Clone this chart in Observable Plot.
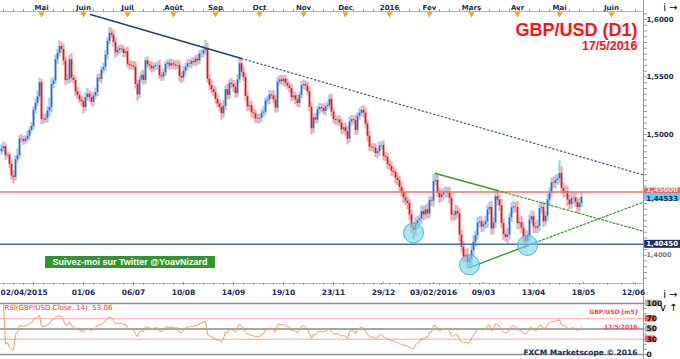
<!DOCTYPE html>
<html><head><meta charset="utf-8">
<script src="https://cdn.jsdelivr.net/npm/d3@7"></script>
<script src="https://cdn.jsdelivr.net/npm/@observablehq/plot@0.6"></script>
<style>
html,body{margin:0;padding:0;background:#fff;}
#wrap{position:relative;width:680px;height:359px;overflow:hidden;background:#fff;}
#wrap svg{position:absolute;left:0;overflow:visible;}
#twitter{position:absolute;left:45px;top:256px;width:170px;height:12px;background:#2f962f;color:#fff;font:bold 9px "Liberation Sans",sans-serif;line-height:12px;text-align:center;white-space:nowrap;}
</style></head><body><div id="wrap"></div>
<script>
// ---------- DATA ----------
const startDate = "2015-04-02";
const lastDate = "2016-05-17";
const holidays = ["2015-04-03", "2015-12-25", "2016-01-01"];
const firstOpen = 1.4850;
const closes = [
1.4875,1.4895,1.4815,1.4820,1.4740,1.4640,1.4625,1.4780,1.4815,1.4960,
1.4955,1.4940,1.4960,1.4985,1.5035,1.5070,1.5210,1.5270,1.5330,1.5450,
1.5130,1.5125,1.5140,1.5205,1.5235,1.5435,1.5465,1.5650,1.5705,1.5765,
1.5740,1.5640,1.5470,1.5480,1.5650,1.5490,1.5470,1.5370,1.5340,1.5300,
1.5285,1.5235,1.5320,1.5350,1.5320,1.5280,1.5335,1.5365,1.5490,1.5480,
1.5560,1.5585,1.5690,1.5810,1.5880,1.5865,1.5800,1.5710,1.5730,1.5745,
1.5740,1.5705,1.5720,1.5610,1.5600,1.5595,1.5585,1.5435,1.5345,1.5475,
1.5515,1.5470,1.5640,1.5605,1.5595,1.5570,1.5590,1.5600,1.5600,1.5510,
1.5500,1.5535,1.5610,1.5620,1.5595,1.5615,1.5605,1.5595,1.5600,1.5505,
1.5490,1.5550,1.5585,1.5615,1.5610,1.5635,1.5625,1.5655,1.5640,1.5700,
1.5700,1.5730,1.5745,1.5480,1.5425,1.5390,1.5365,1.5305,1.5265,1.5235,
1.5180,1.5245,1.5390,1.5340,1.5445,1.5435,1.5410,1.5355,1.5475,1.5615,
1.5540,1.5495,1.5330,1.5240,1.5250,1.5190,1.5180,1.5135,1.5130,1.5140,
1.5185,1.5195,1.5290,1.5300,1.5345,1.5335,1.5300,1.5230,1.5455,1.5475,
1.5460,1.5480,1.5445,1.5420,1.5400,1.5320,1.5335,1.5300,1.5270,1.5340,
1.5425,1.5435,1.5420,1.5370,1.5235,1.5050,1.5145,1.5125,1.5215,1.5235,
1.5225,1.5200,1.5240,1.5250,1.5305,1.5195,1.5130,1.5120,1.5125,1.5100,
1.5040,1.5060,1.5025,1.4960,1.5110,1.5130,1.5120,1.5035,1.5160,1.5185,
1.5210,1.5185,1.5090,1.4985,1.4890,1.4885,1.4880,1.4835,1.4850,1.4900,
1.4905,1.4810,1.4800,1.4740,1.4725,1.4680,1.4670,1.4620,1.4600,1.4540,
1.4500,1.4450,1.4420,1.4400,1.4300,1.4190,1.4165,1.4225,1.4250,1.4265,
1.4330,1.4300,1.4345,1.4310,1.4425,1.4420,1.4590,1.4600,1.4495,1.4450,
1.4475,1.4495,1.4500,1.4490,1.4445,1.4300,1.4295,1.4330,1.4310,1.4125,
1.4020,1.3935,1.3950,1.3885,1.3915,1.3990,1.4065,1.4120,1.4230,1.4240,
1.4195,1.4215,1.4240,1.4345,1.4365,1.4180,1.4230,1.4460,1.4430,1.4380,
1.4225,1.4130,1.4105,1.4125,1.4275,1.4360,1.4370,1.4365,1.4225,1.4235,
1.4185,1.4110,1.4070,1.4120,1.4255,1.4285,1.4195,1.4185,1.4200,1.4355,
1.4365,1.4240,1.4290,1.4430,1.4490,1.4580,1.4575,1.4600,1.4615,1.4660,
1.4530,1.4490,1.4505,1.4430,1.4390,1.4440,1.4445,1.4410,1.4365,1.4400,
1.4453
];
// wick lengths above / below the body, in pips
const upperWickPips = [
35,40,25,30,20,30,45,35,60,30, 40,25,30,45,30,35,30,40,45,40,
30,45,40,35,80,50,30,40,35,50, 40,45,35,40,35,55,30,30,40,30,
35,40,45,50,30,45,30,40,30,40, 30,35,40,30,50,45,40,40,35,30,
35,30,25,40,30,35,40,45,35,30, 35,45,25,35,30,40,30,25,30,45,
30,35,25,30,35,40,30,35,45,40, 35,40,30,40,35,30,35,30,40,30,
35,40,75,50,45,40,35,50,40,35, 40,55,30,45,30,40,35,40,45,45,
45,50,35,40,35,40,35,30,40,35, 30,45,30,35,40,30,45,40,40,35,
40,30,35,40,30,35,40,30,45,30, 35,40,30,35,40,45,35,40,30,35,
30,40,30,35,40,45,30,35,30,40, 35,30,40,45,40,35,30,50,30,40,
35,40,45,35,40,30,35,40,30,35, 30,40,35,30,40,35,40,30,45,35,
40,35,45,40,35,40,45,50,40,35, 50,45,40,55,40,35,60,70,45,40,
45,40,45,40,50,45,40,55,50,45, 40,50,45,60,40,45,55,40,45,50,
45,40,50,40,45,55,50,60,50,45, 55,40,45,60,40,45,50,40,55,45,
50,45,55,40,45,50,45,40,55,40, 50,45,40,50,45,40,50,45,40,110,
60,45,50,45,40,55,50,45,40,50, 40
];
const lowerWickPips = [
30,35,40,25,35,40,55,30,35,25, 30,35,25,30,35,25,30,35,30,40,
45,35,30,40,50,45,35,30,40,30, 35,40,45,30,40,35,30,40,35,30,
40,55,35,30,40,35,40,30,35,30, 40,30,35,40,30,35,40,45,30,35,
30,40,35,30,40,35,30,40,55,35, 30,40,35,30,40,35,30,35,40,30,
40,35,30,40,35,30,40,35,30,45, 50,35,40,30,35,40,30,35,40,30,
35,30,40,35,45,40,35,40,35,40, 55,40,35,40,35,40,45,40,35,30,
40,35,40,45,35,40,45,40,35,40, 35,40,30,35,40,30,35,45,40,35,
30,40,35,30,40,35,30,40,35,40, 30,35,40,35,40,55,40,35,30,40,
35,30,40,35,30,40,35,40,45,35, 40,35,40,50,35,40,35,45,40,35,
30,40,35,45,40,35,40,35,45,40, 35,40,35,45,40,45,40,50,45,40,
45,50,40,55,45,50,80,45,50,40, 45,50,40,45,40,45,50,40,45,50,
40,45,50,40,45,55,50,45,40,60, 50,55,45,50,45,55,45,50,45,40,
50,45,40,55,45,60,50,45,55,50, 45,50,40,55,45,40,50,45,55,50,
45,55,65,45,50,40,55,45,50,40, 45,50,40,45,55,40,45,50,40,45,
50,45,40,55,45,40,50,45,55,40, 35
];
const monthLabels = ["Mai","Juin","Juil","Août","Sep","Oct","Nov","Dec","2016","Fev","Mars","Avr","Mai","Juin"];
const monthDates = ["2015-05-01","2015-06-01","2015-07-01","2015-08-01","2015-09-01","2015-10-01","2015-11-01","2015-12-01","2016-01-01","2016-02-01","2016-03-01","2016-04-01","2016-05-01","2016-06-01"];
const dateLabels = ["02/04/2015","01/06","06/07","10/08","14/09","19/10","23/11","29/12","03/02/2016","09/03","13/04","18/05","12/06"];
const dateLabelDates = ["2015-04-02","2015-06-01","2015-07-06","2015-08-10","2015-09-14","2015-10-19","2015-11-23","2015-12-29","2016-02-03","2016-03-09","2016-04-13","2016-05-18","2016-06-12"];
const priceTicks = [1.60, 1.55, 1.50];
const lowerPriceTick = 1.40;
const resistanceLevel = 1.45;
const supportLevel = 1.4045;
const lastPrice = 1.44533;
const rsiLevels = [100, 70, 50, 30, 0];
const rsiTitle = "RSI(GBP/USD.Close, 14): 53,06";
const chartTitle = "GBP/USD (D1)";
const chartDate = "17/5/2016";
const navyTrend = [{i: 44.5, p: 1.6043}, {i: 120, p: 1.5661}];
const navyTrendExt = [{i: 120, p: 1.5661}, {i: 321, p: 1.4648}];
const greenUpper = [{i: 217, p: 1.4661}, {i: 248, p: 1.4513}];
const greenUpperExt = [{i: 248, p: 1.4513}, {i: 321, p: 1.4158}];
const greenLower = [{i: 234, p: 1.3843}, {i: 263, p: 1.4035}];
const greenLowerExt = [{i: 263, p: 1.4035}, {i: 321, p: 1.4412}];
const lowCircles = [{i: 206, p: 1.4144}, {i: 234, p: 1.3866}, {i: 263, p: 1.4035}];

// ---------- CALENDAR (trading days) ----------
const fmtD = d3.utcFormat("%Y-%m-%d");
const tradingDays = d3.utcDays(new Date(startDate), d3.utcDay.offset(new Date(lastDate), 1))
  .filter(d => d.getUTCDay() % 6 !== 0 && !holidays.includes(fmtD(d)));
const lastDay = tradingDays[tradingDays.length - 1];
function idxOf(s) {
  const d = new Date(s);
  if (d <= lastDay) return tradingDays.findIndex(x => x >= d);
  return tradingDays.length - 1 + d3.utcDay.count(lastDay, d);
}
const xDom = [-0.5, 321];
const yDom = [1.37043, 1.60696];
const mondayIdx = tradingDays.map((d, i) => d.getUTCDay() === 1 ? i : null).filter(v => v !== null)
  .concat(d3.utcMonday.range(d3.utcDay.offset(lastDay, 1), new Date("2016-06-20")).map(d => idxOf(fmtD(d))));
const monthTicks = monthLabels.map((label, k) => ({label, i: idxOf(monthDates[k])}));
const dateTicks = dateLabels.map((label, k) => ({label, i: idxOf(dateLabelDates[k])}));

const candles = closes.map((c, i) => {
  const o = i === 0 ? firstOpen : closes[i - 1];
  return {i, o, c, h: Math.max(o, c) + upperWickPips[i] / 1e4, l: Math.min(o, c) - lowerWickPips[i] / 1e4, up: c >= o};
});
const upC = candles.filter(d => d.up), dnC = candles.filter(d => !d.up);

// RSI 14 (Wilder) of the closes
const rsi = [];
{
  let ag = 0, al = 0;
  for (let i = 1; i < closes.length; i++) {
    const d = closes[i] - closes[i - 1];
    const g = Math.max(d, 0), l = Math.max(-d, 0);
    if (i <= 14) { ag = (ag * (i - 1) + g) / i; al = (al * (i - 1) + l) / i; }
    else { ag = (ag * 13 + g) / 14; al = (al * 13 + l) / 14; }
    rsi.push({i, v: al === 0 ? 100 : 100 - 100 / (1 + ag / al)});
  }
}

const navy = "#1c2a5c";
const fmtP = (d, n) => d.toFixed(n).replace(".", ",");
const boxX1 = xDom[1] + 0.6, boxX2 = xDom[1] + 18.5;
const halfBox = 4 / 1150;
const priceBoxes = [
  {v: resistanceLevel, label: fmtP(resistanceLevel, 5), fill: "#ff5a5a"},
  {v: lastPrice, label: fmtP(lastPrice, 5), fill: "#5fd0f2"},
  {v: supportLevel, label: fmtP(supportLevel, 5), fill: "#1d2d5e"}
];

const p1 = Plot.plot({
  width: 680, height: 300,
  marginTop: 11, marginBottom: 17, marginLeft: 0, marginRight: 37,
  x: {domain: xDom, axis: null},
  y: {domain: yDom, axis: null},
  style: {background: "transparent", fontFamily: "DejaVu Sans", overflow: "visible"},
  marks: [
    Plot.ruleY([yDom[1]], {stroke: "#b5b5b5"}),
    Plot.ruleY([yDom[0]], {stroke: "#b5b5b5"}),
    Plot.ruleX([xDom[1]], {stroke: "#9a9a9a", insetTop: -11, insetBottom: -17}),
    Plot.axisX({anchor: "top", ticks: mondayIdx, tickSize: 3, tickFormat: () => "", stroke: "#9a9a9a"}),
    Plot.axisX({anchor: "bottom", ticks: mondayIdx, tickSize: 2, tickFormat: () => "", stroke: "#9a9a9a"}),
    Plot.ruleX(dateTicks.slice(1), {x: "i", y1: yDom[0], y2: yDom[0] + 4 / 1150, stroke: "#8a8a8a", insetBottom: -3}),
    Plot.ruleX([16], {y1: yDom[0], y2: yDom[0] + 4 / 1150, stroke: "#8a8a8a", insetBottom: -3}),
    Plot.axisY({anchor: "right", ticks: d3.range(1.375, 1.6051, 0.005), tickSize: 3, tickFormat: () => "", stroke: "#9a9a9a"}),
    Plot.dot(monthTicks, {x: "i", y: () => yDom[1], symbol: "triangle", rotate: 180, r: 2.3, fill: "#f4a21e", stroke: "none", dy: 2.5}),
    Plot.text(monthTicks, {x: "i", text: "label", frameAnchor: "top", dy: -6, fontSize: 7, fontWeight: "bold", fill: navy}),
    Plot.text(dateTicks.slice(0, 1), {x: "i", text: "label", frameAnchor: "bottom", dy: 11, dx: -1, textAnchor: "start", fontSize: 7.5, fontWeight: "bold", fill: navy}),
    Plot.text(dateTicks.slice(1), {x: "i", text: "label", frameAnchor: "bottom", dy: 11, fontSize: 7.5, fontWeight: "bold", fill: navy}),
    // candles
    Plot.ruleX(upC, {x: "i", y1: "l", y2: "h", stroke: "#a9c8ee", strokeWidth: 2.2}),
    Plot.ruleX(dnC, {x: "i", y1: "l", y2: "h", stroke: "#f3a9ab", strokeWidth: 2.2}),
    Plot.ruleX(upC, {x: "i", y1: "o", y2: "c", stroke: "#1f6ed4", strokeWidth: 1.6}),
    Plot.ruleX(dnC, {x: "i", y1: "o", y2: "c", stroke: "#e3161c", strokeWidth: 1.6}),
    // levels
    Plot.ruleY([resistanceLevel], {stroke: "#ff6a6a", strokeWidth: 1.6}),
    Plot.ruleY([supportLevel], {stroke: "#4d6a96", strokeWidth: 1.6}),
    // trend lines
    Plot.line(navyTrend, {x: "i", y: "p", stroke: "#26406f", strokeWidth: 1.5}),
    Plot.line(navyTrendExt, {x: "i", y: "p", stroke: "#3c5a8c", strokeWidth: 1.2, strokeDasharray: "1.5,2.5"}),
    Plot.line(greenUpper, {x: "i", y: "p", stroke: "#3a9a2a", strokeWidth: 1.4}),
    Plot.line(greenUpperExt, {x: "i", y: "p", stroke: "#3a9a2a", strokeWidth: 1.2, strokeDasharray: "2,2"}),
    Plot.line(greenLower, {x: "i", y: "p", stroke: "#3a9a2a", strokeWidth: 1.4}),
    Plot.line(greenLowerExt, {x: "i", y: "p", stroke: "#3a9a2a", strokeWidth: 1.2, strokeDasharray: "2,2"}),
    Plot.dot(lowCircles, {x: "i", y: "p", r: 10, fill: "#6fd4ec", fillOpacity: 0.6, stroke: "#48b6de", strokeWidth: 1}),
    // right axis labels
    Plot.text(priceTicks, {x: () => xDom[1], y: d => d, text: d => fmtP(d, 4), dx: 3, textAnchor: "start", fontSize: 7, fontWeight: "bold", fill: navy}),
    Plot.text([lowerPriceTick], {x: () => xDom[1], y: d => d, text: d => fmtP(d, 4), dx: 3, dy: 5.5, textAnchor: "start", fontSize: 6.5, fontWeight: "bold", fill: "#777"}),
    Plot.rect(priceBoxes, {x1: () => boxX1, x2: () => boxX2, y1: d => d.v - halfBox, y2: d => d.v + halfBox, fill: d => d.fill}),
    Plot.text(priceBoxes.slice(0, 1), {x: () => boxX1, y: "v", text: "label", dx: 1.5, dy: -1.8, textAnchor: "start", fontSize: 7, fontWeight: "bold", fill: "#ffe8e8"}),
    Plot.text(priceBoxes.slice(1, 2), {x: () => boxX1, y: "v", text: "label", dx: 1.5, dy: 1.2, textAnchor: "start", fontSize: 7, fontWeight: "bold", fill: navy}),
    Plot.text(priceBoxes.slice(2, 3), {x: () => boxX1, y: "v", text: "label", dx: 1.5, dy: -1, textAnchor: "start", fontSize: 7, fontWeight: "bold", fill: "#ffffff"}),
    // title
    Plot.text([chartTitle], {frameAnchor: "top-right", dx: -6, dy: 11.5, textAnchor: "end", fontSize: 18, fontWeight: "bold", fontFamily: "Liberation Sans", fill: "#ff1414"}),
    Plot.text([chartDate], {frameAnchor: "top-right", dx: -6, dy: 29.5, textAnchor: "end", fontSize: 12.5, fontWeight: "bold", fontFamily: "Liberation Sans", fill: "#ff1414"})
  ]
});
p1.style.top = "0px";

const rsiBoxes = [
  {v: 100, fill: "#b8b8b8"}, {v: 70, fill: "#ff6060"}, {v: 50, fill: "#b8b8b8"}, {v: 30, fill: "#ff6060"}
];
const p2 = Plot.plot({
  width: 680, height: 59,
  marginTop: 3, marginBottom: 5, marginLeft: 0, marginRight: 37,
  x: {domain: xDom, axis: null},
  y: {domain: [0, 100], axis: null},
  style: {background: "transparent", fontFamily: "DejaVu Sans", overflow: "visible"},
  marks: [
    Plot.ruleY([70, 30], {stroke: "#ffa3a3", strokeWidth: 1}),
    Plot.ruleY([50], {stroke: "#a6a6a6", strokeWidth: 2}),
    Plot.ruleY([100, 0], {stroke: "#8f8f8f", strokeWidth: 1.5}),
    Plot.ruleX([xDom[1]], {stroke: "#9a9a9a", insetTop: -3, insetBottom: -5}),
    Plot.axisY({anchor: "right", ticks: d3.range(0, 101, 10), tickSize: 3, tickFormat: () => "", stroke: "#9a9a9a"}),
    Plot.line(rsi, {x: "i", y: "v", stroke: "#f2996a", strokeWidth: 1}),
    Plot.rect(rsiBoxes, {x1: () => xDom[1] + 0.8, x2: d => xDom[1] + (d.v === 100 ? 8.2 : 6), y1: d => d.v - 6.5, y2: d => d.v + 6.5, fill: d => d.fill}),
    Plot.text(rsiLevels, {x: () => xDom[1], y: d => d, text: d => String(d), dx: 3, textAnchor: "start", fontSize: 7.5, fontWeight: "bold", fill: "#111"}),
    Plot.text([rsiTitle], {frameAnchor: "top-left", dx: 4, dy: 1.5, textAnchor: "start", fontSize: 7, fill: "#e8401a"}),
    Plot.text(["GBP/USD [m5]"], {frameAnchor: "top-right", dx: -6, dy: 6, textAnchor: "end", fontSize: 6, fontWeight: "bold", fill: "#ff4545"}),
    Plot.text([chartDate], {frameAnchor: "top-right", dx: -6, dy: 21, textAnchor: "end", fontSize: 6, fontWeight: "bold", fill: "#ff4545"}),
    Plot.text(["FXCM Marketscope © 2016"], {frameAnchor: "bottom-right", dx: -6, dy: 0, textAnchor: "end", fontSize: 7.5, fontWeight: "bold", fill: navy})
  ]
});
p2.style.top = "300px";

const wrap = document.getElementById("wrap");
wrap.appendChild(p1);
wrap.appendChild(p2);
const tw = document.createElement("div");
tw.id = "twitter";
tw.textContent = "Suivez-moi sur Twitter @YoavNizard";
wrap.appendChild(tw);
</script></body></html>
